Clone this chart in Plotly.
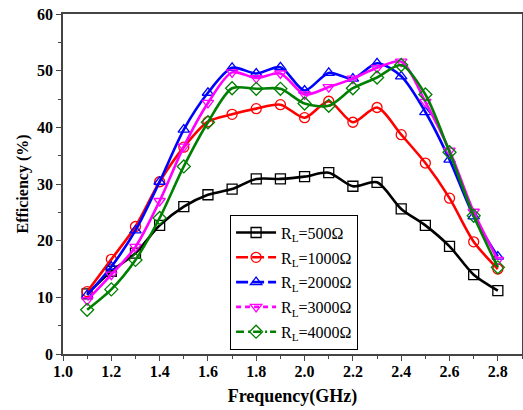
import plotly.graph_objects as go

freq = [1.1, 1.2, 1.3, 1.4, 1.5, 1.6, 1.7, 1.8, 1.9, 2.0,
        2.1, 2.2, 2.3, 2.4, 2.5, 2.6, 2.7, 2.8]

eff_500 = [10.6, 14.6, 17.8, 22.7, 26.0, 28.1, 29.1, 30.9, 30.9, 31.3,
           32.0, 29.6, 30.3, 25.6, 22.7, 19.0, 14.0, 11.2]
eff_1000 = [11.0, 16.7, 22.5, 30.4, 36.5, 41.0, 42.3, 43.3, 44.0, 41.7,
            44.6, 40.9, 43.5, 38.7, 33.7, 27.5, 19.8, 15.0]
eff_2000 = [10.4, 15.4, 21.8, 30.4, 39.6, 46.1, 50.5, 49.5, 50.6, 46.5,
            49.6, 48.6, 51.3, 49.0, 42.7, 34.3, 24.3, 17.2]
eff_3000 = [9.5, 14.0, 18.9, 27.0, 36.6, 44.3, 49.7, 48.7, 49.5, 45.8,
            47.1, 48.6, 50.5, 51.6, 44.5, 35.9, 25.1, 16.6]
eff_4000 = [7.8, 11.4, 16.6, 24.0, 33.1, 40.9, 46.9, 46.8, 46.8, 44.2,
            43.8, 46.9, 48.8, 51.0, 45.8, 35.6, 24.4, 15.3]

series = [
    ('R<sub>L</sub>=500Ω', eff_500, 'black', 'square-open', 'solid'),
    ('R<sub>L</sub>=1000Ω', eff_1000, 'red', 'circle-open', '12px,4px'),
    ('R<sub>L</sub>=2000Ω', eff_2000, 'blue', 'triangle-up-open', '12px,4px'),
    ('R<sub>L</sub>=3000Ω', eff_3000, 'magenta', 'triangle-down-open', '5px,4px'),
    ('R<sub>L</sub>=4000Ω', eff_4000, 'green', 'diamond-open', '8px,4px,2px,3px'),
]

serif = 'Liberation Serif'

fig = go.Figure()
for name, vals, color, symbol, dash in series:
    fig.add_trace(go.Scatter(
        x=freq, y=vals, mode='lines+markers', showlegend=False,
        line=dict(color=color, width=2.6, shape='spline', smoothing=0.8),
        marker=dict(symbol=symbol, size=10, color=color,
                    line=dict(color=color, width=1.3)),
    ))
# legend-only entries, carrying the dash styles of the original legend
for name, vals, color, symbol, dash in series:
    fig.add_trace(go.Scatter(
        x=[None], y=[None], mode='lines+markers', name=name, legendgroup=name,
        line=dict(color=color, width=2.6, dash=dash),
        marker=dict(symbol=symbol, size=10, color=color,
                    line=dict(color=color, width=1.3)),
    ))

axis_common = dict(
    showgrid=False, zeroline=False, showline=True, linecolor='#444',
    linewidth=1.5, mirror=True, ticks='outside', ticklen=5, tickwidth=1.2,
    tickcolor='#444', automargin=False,
    tickfont=dict(family=serif, size=16, color='black', weight='bold'),
)

fig.update_xaxes(
    range=[1.0, 2.9], tick0=1.0, dtick=0.2, tickformat='.1f',
    minor=dict(ticks='outside', ticklen=3, dtick=0.1, tickcolor='#444'),
    ticklabelstandoff=-3,
    title=dict(text='<b>Frequency(GHz)</b>', standoff=10,
               font=dict(family=serif, size=18, color='black')),
    **axis_common,
)
fig.update_yaxes(
    range=[0, 60], tick0=0, dtick=10,
    minor=dict(ticks='outside', ticklen=3, dtick=5, tickcolor='#444'),
    title=dict(text='<b>Efficiency (%)</b>', standoff=4,
               font=dict(family=serif, size=16, color='black')),
    **axis_common,
)

fig.update_layout(
    width=523, height=410,
    margin=dict(l=63, r=1, t=14, b=56),
    plot_bgcolor='white', paper_bgcolor='white',
    legend=dict(
        x=0.364, y=0.41, xanchor='left', yanchor='top',
        bordercolor='black', borderwidth=1, bgcolor='white',
        font=dict(family=serif, size=16, color='black'),
        itemwidth=40, tracegroupgap=1,
    ),
)

fig.write_html("out.html", config={'displayModeBar': False},
               post_script="document.body.style.margin = '0';")
